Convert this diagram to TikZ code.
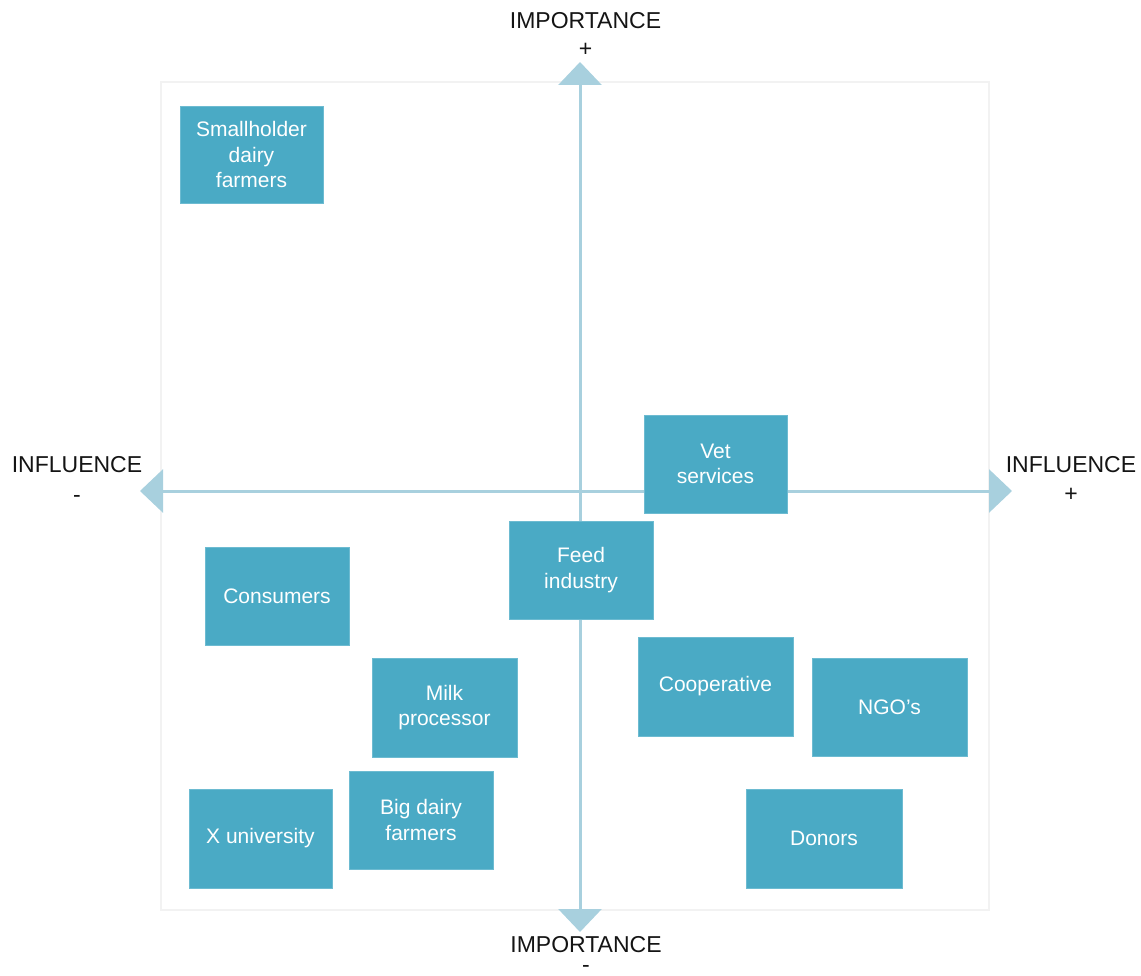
\documentclass[tikz,border=0pt]{standalone}
\usepackage{fontspec}
\setmainfont{Liberation Sans}
\usetikzlibrary{arrows.meta}
\definecolor{boxblue}{HTML}{4AAAC5}
\definecolor{boxedge}{HTML}{6DBBD1}
\definecolor{axisblue}{HTML}{A8D0DE}
\definecolor{framegray}{HTML}{F2F2F2}
\definecolor{labelgray}{HTML}{141414}

\begin{document}
\begin{tikzpicture}[x=1pt,y=-1pt,
  stakeholder/.style={fill=boxblue, draw=boxedge, line width=0.8pt, text=white,
    align=center, inner sep=0pt, minimum width=144pt, minimum height=98pt,
    font=\fontsize{21}{25.5}\selectfont},
  axislabel/.style={text=labelgray, inner sep=0pt, anchor=base, align=center,
    font=\fontsize{23}{27}\selectfont},
  axisline/.style={draw=axisblue, fill=axisblue, line width=3pt,
    {Triangle[width=43pt,length=23pt]}-{Triangle[width=43pt,length=23pt]}}
]
\useasboundingbox (0,0) rectangle (1141,976);

% outer frame of the grid
\draw[framegray, line width=2pt] (161,82) rectangle (989,910);

% axes
\coordinate (vtop) at (580,62);
\coordinate (vbot) at (580,932);
\coordinate (hleft) at (140,491);
\coordinate (hright) at (1012,491);
\draw[axisline] (vbot) -- (vtop);
\draw[axisline] (hleft) -- (hright);

% axis labels (the sign line's baseline sits on the given point)
\node[axislabel] (imptop) at (585.5,57) {IMPORTANCE\\[1pt]+};
\node[axislabel] (impbot) at (586,972) {IMPORTANCE\\[-7pt]-};
\node[axislabel] (infleft) at (77,502) {INFLUENCE\\[3pt]-};
\node[axislabel] (infright) at (1071,501) {INFLUENCE\\[2pt]+};

% stakeholders
\node[stakeholder, minimum width=143pt, minimum height=97pt] (small) at (251.5,154.5) {Smallholder\\dairy\\farmers};
\node[stakeholder, minimum width=143pt] (vet) at (715.5,464) {Vet\\services};
\node[stakeholder] (feed) at (581,570) {Feed\\industry};
\node[stakeholder] (cons) at (277,596) {Consumers};
\node[stakeholder, minimum width=145pt, minimum height=99pt] (milk) at (444.5,707.5) {Milk\\processor};
\node[stakeholder, minimum width=155pt, minimum height=99pt] (coop) at (715.5,686.5) {Cooperative};
\node[stakeholder, minimum width=155pt] (ngo) at (889.5,707) {NGO’s};
\node[stakeholder, minimum width=143pt, minimum height=99pt] (xuni) at (260.5,838.5) {X university};
\node[stakeholder] (big) at (421,820) {Big dairy\\farmers};
\node[stakeholder, minimum width=156pt, minimum height=99pt] (donors) at (824,838.5) {Donors};
\end{tikzpicture}
\end{document}
